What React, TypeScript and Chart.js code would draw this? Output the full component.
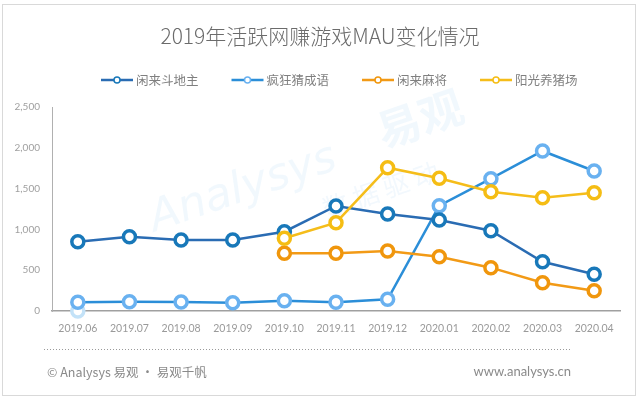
import React, { useEffect, useRef } from "react";
import { Chart, registerables } from "chart.js";

Chart.register(...registerables);

const titleText = "2019年活跃网赚游戏MAU变化情况";
const months = ["2019.06", "2019.07", "2019.08", "2019.09", "2019.10", "2019.11", "2019.12", "2020.01", "2020.02", "2020.03", "2020.04"];
const seriesNames = ["闲来斗地主", "疯狂猜成语", "闲来麻将", "阳光养猪场"];
const doudizhu = [849, 911, 870, 870, 972, 1287, 1189, 1115, 984, 604, 450];
const chengyu = [106, 114, 110, 102, 126, 106, 143, 1291, 1621, 1961, 1716];
const majiang = [null, null, null, null, 707, 707, 735, 666, 531, 347, 249];
const yangzhu = [null, null, null, null, 891, 1082, 1756, 1626, 1462, 1389, 1450];
const ghostPoint = [0, null, null, null, null, null, null, null, null, null, null];
const yTicks = [0, 500, 1000, 1500, 2000, 2500];
const footerLeft = "© Analysys 易观 · 易观千帆";
const footerRight = "www.analysys.cn";

const lineColors = ["#2a6cb3", "#2b8ed8", "#f29a16", "#f5bd1a"];
const pointColors = ["#1878b9", "#69b1f0", "#f0960c", "#f5bd14"];

const CJK = "'Noto Sans CJK SC', 'Noto Sans', sans-serif";

const decorPlugin = {
  id: "decor",
  beforeDraw(chart: any) {
    const ctx = chart.ctx;
    ctx.save();
    ctx.fillStyle = "#ffffff";
    ctx.fillRect(0, 0, chart.width, chart.height);
    ctx.strokeStyle = "#d9d9d9";
    ctx.lineWidth = 1;
    ctx.strokeRect(2.5, 4.5, 633, 391);
    // watermark
    ctx.translate(300, 170);
    ctx.rotate(-0.33);
    ctx.fillStyle = "rgba(190,222,246,0.22)";
    ctx.font = "italic 44px 'DejaVu Sans', sans-serif";
    ctx.textAlign = "center";
    ctx.textBaseline = "middle";
    ctx.fillText("Analysys", -60, 0);
    ctx.font = "bold 44px " + CJK;
    ctx.fillText("易观", 130, -10);
    ctx.font = "26px " + CJK;
    ctx.fillStyle = "rgba(190,222,246,0.2)";
    ctx.fillText("数 据 驱 动", 70, 45);
    ctx.restore();
  },
  afterDraw(chart: any) {
    const ctx = chart.ctx;
    ctx.save();
    // title
    ctx.fillStyle = "#6b6b6b";
    ctx.font = "300 21px " + CJK;
    ctx.textAlign = "center";
    ctx.textBaseline = "middle";
    ctx.fillText(titleText, 320, 36);
    // legend
    ctx.font = "12.5px " + CJK;
    ctx.textAlign = "left";
    let x = 101;
    const ly = 80;
    seriesNames.forEach((name, i) => {
      ctx.strokeStyle = lineColors[i];
      ctx.lineWidth = 2.5;
      ctx.beginPath();
      ctx.moveTo(x, ly);
      ctx.lineTo(x + 32, ly);
      ctx.stroke();
      ctx.fillStyle = "#ffffff";
      ctx.strokeStyle = pointColors[i];
      ctx.lineWidth = 1.5;
      ctx.beginPath();
      ctx.arc(x + 16, ly, 3, 0, Math.PI * 2);
      ctx.fill();
      ctx.stroke();
      ctx.fillStyle = "#7f7f7f";
      ctx.fillText(name, x + 35, ly);
      x += 35 + ctx.measureText(name).width + 33;
    });
    // dotted separator
    ctx.strokeStyle = "#9a9a9a";
    ctx.lineWidth = 1;
    ctx.setLineDash([1, 2]);
    ctx.beginPath();
    ctx.moveTo(44, 349.5);
    ctx.lineTo(571, 349.5);
    ctx.stroke();
    ctx.setLineDash([]);
    // footer
    ctx.fillStyle = "#8a8a8a";
    ctx.font = "12.5px " + CJK;
    ctx.textAlign = "left";
    ctx.fillText(footerLeft, 47, 372);
    ctx.textAlign = "right";
    ctx.font = "13px Lato, 'Noto Sans', sans-serif";
    ctx.fillText(footerRight, 571, 372);
    ctx.restore();
  },
};

function makeDataset(label: string, data: (number | null)[], i: number, order: number) {
  return {
    label,
    data,
    borderColor: lineColors[i],
    borderWidth: 2.5,
    pointBorderColor: pointColors[i],
    pointBackgroundColor: "#ffffff",
    pointRadius: 6,
    pointBorderWidth: 3.5,
    pointHoverRadius: 6,
    tension: 0,
    spanGaps: false,
    clip: false,
    order,
  };
}

export default function App() {
  const ref = useRef<HTMLCanvasElement | null>(null);
  useEffect(() => {
    document.body.style.margin = "0";
    const canvas = ref.current;
    if (!canvas) return;
    const chart = new Chart(canvas, {
      type: "line",
      data: {
        labels: months,
        datasets: [
          makeDataset(seriesNames[0], doudizhu, 0, 3),
          makeDataset(seriesNames[1], chengyu, 1, 4),
          makeDataset(seriesNames[2], majiang, 2, 2),
          makeDataset(seriesNames[3], yangzhu, 3, 1),
          {
            label: "",
            data: ghostPoint,
            borderColor: "#c3e2f8",
            pointBorderColor: "#c3e2f8",
            pointBackgroundColor: "#ffffff",
            pointRadius: 6,
            pointBorderWidth: 3.5,
            clip: false,
            order: 5,
          },
        ],
      },
      options: {
        animation: false,
        responsive: false,
        devicePixelRatio: 1,
        layout: { padding: { left: 0, right: 20, top: 107, bottom: 57 } },
        plugins: {
          legend: { display: false },
          title: { display: false },
          tooltip: { enabled: false },
        },
        scales: {
          x: {
            offset: true,
            grid: { display: false, drawTicks: false },
            border: { display: true, color: "#a0a0a0", width: 1.5 },
            ticks: {
              autoSkip: false,
              maxRotation: 0,
              padding: 11,
              color: "#9a9a9a",
              font: { family: "Lato, 'Noto Sans', sans-serif", size: 10.5 },
            },
            afterFit(scale: any) {
              scale.height = 30;
            },
          },
          y: {
            min: 0,
            max: 2500,
            grid: { display: false, drawTicks: false },
            border: { display: true, color: "#b0b0b0", width: 1 },
            afterBuildTicks(scale: any) {
              scale.ticks = yTicks.map((v) => ({ value: v }));
            },
            ticks: {
              padding: 12,
              color: "#a0a0a0",
              font: { family: "Lato, 'Noto Sans', sans-serif", size: 10 },
              callback: (v: any) => Number(v).toLocaleString("en-US"),
            },
            afterFit(scale: any) {
              scale.width = 52;
            },
          },
        },
      },
      plugins: [decorPlugin],
    } as any);
    return () => chart.destroy();
  }, []);
  return (
    <div style={{ position: "absolute", left: 0, top: 0, width: 640, height: 398 }}>
      <canvas ref={ref} width={640} height={398} style={{ width: 640, height: 398, display: "block" }} />
    </div>
  );
}
